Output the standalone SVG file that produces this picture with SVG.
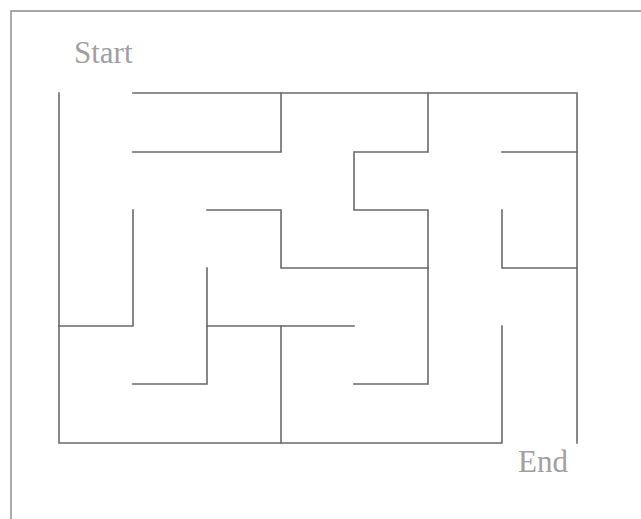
<svg xmlns="http://www.w3.org/2000/svg" width="641" height="519" viewBox="0 0 641 519">
<style>
.w{fill:none;stroke:#6a6a6a;stroke-width:1.6;stroke-linecap:square;stroke-linejoin:miter}
.b{fill:none;stroke:#8a8a8a;stroke-width:1.4}
.t{font-family:"Liberation Serif","Times New Roman",serif;font-size:31px;fill:#a0a0a0}
</style>
<rect width="641" height="519" fill="#ffffff"/>
<path class="b" d="M11 530 V11 H650"/>
<g id="start"><text class="t" x="74" y="63">Start</text></g>
<g id="end"><text class="t" x="518" y="472">End</text></g>
<g id="walls">
<path class="w" d="M59 93 V443 H502 V326"/>
<path class="w" d="M133 93 H577 V443"/>
<path class="w" d="M133 152 H281 V93"/>
<path class="w" d="M428 93 V152 H354 V210 H428 V384 H354"/>
<path class="w" d="M502 152 H577"/>
<path class="w" d="M502 210 V268 H577"/>
<path class="w" d="M207 210 H281 V268 H428"/>
<path class="w" d="M133 210 V326 H59"/>
<path class="w" d="M207 268 V384 H133"/>
<path class="w" d="M207 326 H354"/>
<path class="w" d="M281 326 V443"/>
</g>
</svg>
